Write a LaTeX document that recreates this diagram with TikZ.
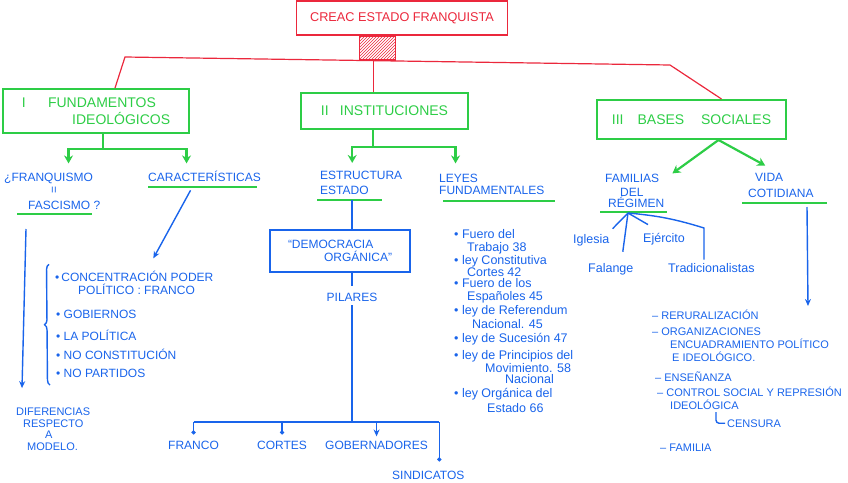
\documentclass[tikz,border=0pt]{standalone}
\usepackage{fontspec}
\setmainfont{Liberation Sans}
\usetikzlibrary{arrows.meta,positioning,patterns,decorations.pathreplacing,calc}
\definecolor{redink}{RGB}{235,40,60}
\definecolor{greenink}{RGB}{45,205,70}
\definecolor{blueink}{RGB}{25,100,235}
\tikzset{
  >={Stealth[length=8pt,width=9pt]},
  rootbox/.style={draw=redink,line width=1.2pt,text=redink,minimum width=211pt,
    minimum height=34pt,inner sep=0pt,font=\fontsize{12.7}{15}\selectfont},
  hatchbox/.style={draw=redink,line width=1.2pt,pattern=north east lines,pattern color=redink,
    minimum width=36pt,minimum height=24pt,inner sep=0pt},
  theme/.style 2 args={draw=greenink,line width=2pt,text=greenink,minimum width=#1,
    minimum height=#2,inner sep=0pt,align=left,font=\fontsize{14}{17}\selectfont},
  hand/.style={text=blueink,inner sep=0pt,anchor=base west,font=\fontsize{12}{14}\selectfont},
  handsm/.style={hand,font=\fontsize{11}{13}\selectfont},
  ley/.style={hand,font=\fontsize{12.5}{14}\selectfont},
  demobox/.style={draw=blueink,line width=1.4pt,text=blueink,minimum width=140pt,
    minimum height=42pt,inner sep=0pt,align=left,font=\fontsize{12}{13}\selectfont},
  redline/.style={draw=redink,line width=1.2pt},
  gline/.style={draw=greenink,line width=2pt},
  garrow/.style={->,draw=greenink,line width=2.2pt},
  bline/.style={draw=blueink,line width=1.4pt},
  barrow/.style={-{Stealth[length=7pt,width=6pt]},draw=blueink,line width=1.4pt},
  bdot/.style={-{Circle[length=4pt]},draw=blueink,line width=1.4pt},
}
\begin{document}
\begin{tikzpicture}[x=1pt,y=-1pt]
\useasboundingbox (0,0) rectangle (848,482);
\clip (0,0) rectangle (848,482);

% titulo
\node[rootbox] (root) at (402,18) {CREAC ESTADO FRANQUISTA};
\node[hatchbox] (hatch) at (377.5,48) {};

% los tres bloques
\node[theme={186pt}{44pt}] (fund) at (96,111) {I\hspace{1.6em}FUNDAMENTOS\\\hspace*{3.6em}IDEOLÓGICOS};
\node[theme={167pt}{36pt}] (inst) at (384.5,111) {II\hspace{0.8em}INSTITUCIONES};
\node[theme={189pt}{39pt}] (bases) at (691.5,119.5) {III\hspace{1em}BASES\hspace{1.2em}SOCIALES};

\coordinate (rl) at (125,57);
\coordinate (rr) at (670,65);
\draw[redline] ([xshift=19pt]fund.north) -- (rl) -- (rr) -- ([xshift=30pt]bases.north);
\draw[redline] ([xshift=-4pt]hatch.south) -- ([xshift=-4pt]hatch.south |- inst.north);

% I fundamentos
\node[hand] (franq) at (4,181) {¿FRANQUISMO};
\node[hand,anchor=center,rotate=90] (igual) at (55,190) {=};
\node[hand] (fasc) at (28,209) {FASCISMO ?};
\node[hand] (caract) at (148,181) {CARACTERÍSTICAS};
\draw[gline] ([xshift=-11pt,yshift=-5pt]fasc.base west) -- ++(75,0);
\draw[gline] ([yshift=-6pt]caract.base west) -- ++(109,0);
\draw[garrow] ([xshift=7pt]fund.south) -- ++(0,15) -| ([xshift=20pt,yshift=9pt]franq.north);
\draw[garrow] ([xshift=7pt]fund.south) -- ++(0,15) -| ([xshift=-18pt,yshift=7pt]caract.north);

\node[hand] (conc) at (55,281) {\textbullet\,CONCENTRACIÓN PODER};
\node[hand] (polit) at (78,294) {POLÍTICO : FRANCO};
\foreach \y/\txt [count=\i] in {318/GOBIERNOS,340/LA POLÍTICA,359/NO CONSTITUCIÓN,377/NO PARTIDOS}
  \node[hand] (car\i) at (56,\y) {\textbullet\ \txt};
\draw[bline,decorate,decoration={brace,amplitude=5pt}] ([xshift=-6pt,yshift=-8pt]car4.base west) -- ([xshift=-6pt,yshift=6pt]conc.north west);
\draw[barrow] ([xshift=-14pt,yshift=-9pt]caract.south) -- ([xshift=19pt,yshift=12pt]conc.north);

\node[handsm] (dif) at (16,415) {DIFERENCIAS};
\node[handsm] (resp) at (23,427) {RESPECTO};
\node[handsm] (a) at (45,438) {A};
\node[handsm] (mod) at (27,450) {MODELO.};
\coordinate (vtop) at (26,229);
\draw[barrow] (vtop) -- ([xshift=6pt,yshift=19pt]dif.north west);

% II instituciones
\node[hand] (estr) at (320,179) {ESTRUCTURA};
\node[hand] (estado) at (320,194) {ESTADO};
\node[hand] (leyes) at (439,182) {LEYES};
\node[hand] (fundam) at (439,194) {FUNDAMENTALES};
\draw[gline] ([xshift=-3pt,yshift=-6pt]estado.base west) -- ++(65,0);
\draw[gline] ([xshift=4pt,yshift=-7pt]fundam.base west) -- ++(112,0);
\draw[garrow] ([xshift=-11.5pt]inst.south) -- ++(0,17) -| ([xshift=-9pt,yshift=7.5pt]estr.north);
\draw[garrow] ([xshift=-11.5pt]inst.south) -- ++(0,17) -| ([xshift=-3pt,yshift=10pt]leyes.north);

\node[demobox] (demo) at (340,251) {“DEMOCRACIA\\\hspace*{3em}ORGÁNICA”};
\node[hand,anchor=base] (pil) at (352,301) {PILARES};
\draw[bline] ([yshift=-6pt]estado.south -| pil) -- (demo.north -| pil);
\draw[bline] (demo.south -| pil) -- ([yshift=6pt]pil.north);
\coordinate (hub) at (352,422);
\draw[bline] ([yshift=-4pt]pil.south) -- (hub);
\node[hand] (franco) at (168,449) {FRANCO};
\node[hand] (cortes) at (257,449) {CORTES};
\node[hand] (gober) at (325,449) {GOBERNADORES};
\node[hand] (sind) at (392,479) {SINDICATOS};
\draw[bline] (franco.north |- hub) -- ([xshift=11pt]sind.north |- hub);
\foreach \n in {franco,cortes}
  \draw[bdot] (\n.north |- hub) -- ([yshift=6pt]\n.north);
\draw[barrow] (gober.north |- hub) -- ([yshift=4pt]gober.north);
\draw[bdot] ([xshift=11pt]sind.north |- hub) -- ([xshift=11pt,yshift=9pt]sind.north);

\foreach \x/\y/\txt [count=\i] in {454/238/{\textbullet\ Fuero del},467/251/{Trabajo 38},
    454/264/{\textbullet\ ley Constitutiva},467/276/{Cortes 42},
    454/287/{\textbullet\ Fuero de los},467/300/{Españoles 45},
    454/314/{\textbullet\ ley de Referendum},472/328/{Nacional. 45},
    454/342/{\textbullet\ ley de Sucesión 47},
    454/359/{\textbullet\ ley de Principios del},485/372/{Movimiento. 58},505/383/{Nacional},
    454/397/{\textbullet\ ley Orgánica del},487/412/{Estado 66}}
  \node[ley] (ley\i) at (\x,\y) {\txt};

% III bases sociales
\node[hand] (fam) at (605,182) {FAMILIAS};
\node[hand] (del) at (620,196) {DEL};
\node[hand] (reg) at (608,207) {RÉGIMEN};
\node[hand] (vida) at (755,181) {VIDA};
\node[hand] (cot) at (748,197) {COTIDIANA};
\draw[gline] ([xshift=-8pt,yshift=-5pt]reg.base west) -- ++(67,0);
\draw[gline] ([xshift=-6pt,yshift=-6pt]cot.base west) -- ++(85,0);
\draw[garrow] ([xshift=27pt]bases.south) -- ([xshift=13pt]fam.north east);
\draw[garrow] ([xshift=27pt]bases.south) -- ([xshift=-4pt,yshift=7pt]vida.north);

\coordinate (fo) at (628,213);
\node[ley] (igl) at (573,243) {Iglesia};
\node[ley] (fal) at (588,272) {Falange};
\node[ley] (ejer) at (643,242) {Ejército};
\node[ley] (trad) at (668,272) {Tradicionalistas};
\draw[bline] (fo) -- ([xshift=3pt,yshift=5pt]igl.north east);
\draw[bline] (fo) -- ([xshift=12pt,yshift=11pt]fal.north);
\draw[bline] (fo) -- ([xshift=5pt,yshift=8pt]ejer.north west);
\coordinate (tc) at (704,228);
\draw[bline] (fo) to[bend left=6] (tc) -- ([yshift=3pt]trad.north -| tc);

\foreach \x/\y/\txt [count=\i] in {652/319/{-- RERURALIZACIÓN},652/335/{-- ORGANIZACIONES},
    670/348/{ENCUADRAMIENTO POLÍTICO},672/361/{E IDEOLÓGICO.},655/381/{-- ENSEÑANZA},
    657/396/{-- CONTROL SOCIAL Y REPRESIÓN},670/409/{IDEOLÓGICA},660/451/{-- FAMILIA}}
  \node[handsm] (vc\i) at (\x,\y) {\txt};
\node[handsm] (cens) at (727,427) {CENSURA};
\coordinate (vdown) at (808,306);
\draw[barrow] ([xshift=59pt,yshift=-10pt]cot.base west) -- (vdown);
\draw[bline,rounded corners=3pt] ([xshift=46pt,yshift=-3pt]vc7.base west) |- ([xshift=-2pt]cens.west);
\end{tikzpicture}
\end{document}
